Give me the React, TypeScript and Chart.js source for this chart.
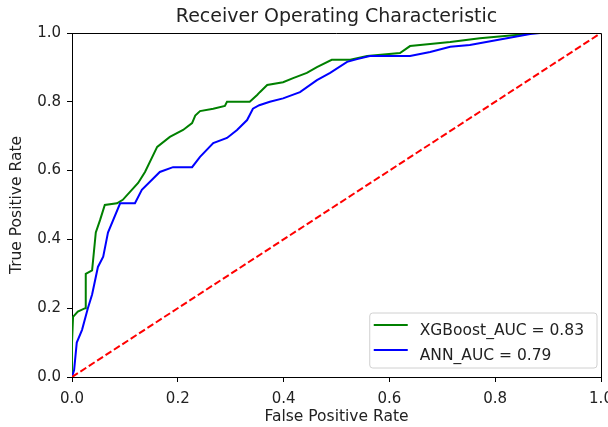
import { useEffect, useRef } from "react";
import { Chart, registerables } from "chart.js";

Chart.register(...registerables);

const FONT = "'DejaVu Sans', 'Liberation Sans', sans-serif";

const titleText = "Receiver Operating Characteristic";
const xTitle = "False Positive Rate";
const yTitle = "True Positive Rate";
const axisTicks = [0, 0.2, 0.4, 0.6, 0.8, 1.0];

const xgbLabel = "XGBoost_AUC = 0.83";
const xgbFpr = [0, 0, 0.002, 0.011, 0.025, 0.026, 0.038, 0.045, 0.053, 0.062, 0.085, 0.096, 0.125, 0.138, 0.161, 0.185, 0.21, 0.227, 0.233, 0.242, 0.267, 0.289, 0.293, 0.336, 0.35, 0.355, 0.369, 0.399, 0.418, 0.444, 0.463, 0.491, 0.526, 0.558, 0.62, 0.639, 0.677, 0.715, 0.771, 0.86, 0.866, 1.0];
const xgbTpr = [0, 0.1, 0.175, 0.19, 0.2, 0.3, 0.31, 0.42, 0.456, 0.5, 0.505, 0.515, 0.564, 0.596, 0.669, 0.698, 0.718, 0.738, 0.76, 0.773, 0.78, 0.788, 0.8, 0.8, 0.82, 0.828, 0.849, 0.857, 0.869, 0.884, 0.901, 0.922, 0.922, 0.933, 0.942, 0.962, 0.968, 0.974, 0.985, 0.997, 1.0, 1.0];

const annLabel = "ANN_AUC = 0.79";
const annFpr = [0, 0.004, 0.009, 0.019, 0.03, 0.038, 0.049, 0.059, 0.068, 0.091, 0.119, 0.132, 0.166, 0.191, 0.227, 0.242, 0.267, 0.293, 0.312, 0.331, 0.342, 0.354, 0.374, 0.399, 0.431, 0.463, 0.488, 0.52, 0.539, 0.563, 0.639, 0.677, 0.715, 0.752, 0.822, 0.866, 0.885, 1.0];
const annTpr = [0, 0.02, 0.1, 0.137, 0.2, 0.24, 0.32, 0.35, 0.42, 0.505, 0.505, 0.544, 0.596, 0.61, 0.61, 0.64, 0.68, 0.695, 0.718, 0.747, 0.78, 0.79, 0.8, 0.81, 0.828, 0.863, 0.884, 0.916, 0.924, 0.933, 0.933, 0.945, 0.96, 0.965, 0.985, 0.997, 1.0, 1.0];

const chanceFpr = [0, 1];
const chanceTpr = [0, 1];

const toPoints = (xs: number[], ys: number[]) => xs.map((x, i) => ({ x, y: ys[i] }));

const framePlugin = {
  id: "frameBox",
  afterDraw(chart: any) {
    const { ctx, chartArea } = chart;
    ctx.save();
    ctx.strokeStyle = "#000";
    ctx.lineWidth = 1;
    ctx.beginPath();
    ctx.moveTo(chartArea.left, chartArea.top + 0.5);
    ctx.lineTo(chartArea.right + 0.5, chartArea.top + 0.5);
    ctx.lineTo(chartArea.right + 0.5, chartArea.bottom);
    ctx.stroke();
    ctx.restore();
  },
};

const legendPlugin = {
  id: "rocLegend",
  afterDraw(chart: any) {
    const { ctx, chartArea } = chart;
    const items = chart.data.datasets.filter((d: any) => d.label);
    const fs = 15.5;
    ctx.save();
    ctx.font = `${fs}px ${FONT}`;
    let tw = 0;
    items.forEach((d: any) => {
      tw = Math.max(tw, ctx.measureText(d.label).width);
    });
    const right = chartArea.right - 4;
    const bottom = chartArea.bottom - 9;
    const rowGap = 25;
    const height = 30 + rowGap * (items.length - 1);
    const width = 50 + tw + 13;
    const left = right - width;
    const top = bottom - height;
    const r = 3;
    ctx.beginPath();
    ctx.moveTo(left + r, top);
    ctx.lineTo(right - r, top);
    ctx.arcTo(right, top, right, top + r, r);
    ctx.lineTo(right, bottom - r);
    ctx.arcTo(right, bottom, right - r, bottom, r);
    ctx.lineTo(left + r, bottom);
    ctx.arcTo(left, bottom, left, bottom - r, r);
    ctx.lineTo(left, top + r);
    ctx.arcTo(left, top, left + r, top, r);
    ctx.closePath();
    ctx.fillStyle = "rgba(255,255,255,0.85)";
    ctx.fill();
    ctx.strokeStyle = "#d0d0d0";
    ctx.lineWidth = 1;
    ctx.stroke();
    items.forEach((d: any, i: number) => {
      const ly = top + 12 + i * rowGap;
      ctx.beginPath();
      ctx.strokeStyle = d.borderColor;
      ctx.lineWidth = 2;
      ctx.moveTo(left + 4, ly);
      ctx.lineTo(left + 38, ly);
      ctx.stroke();
      ctx.fillStyle = "#222";
      ctx.textBaseline = "alphabetic";
      ctx.textAlign = "left";
      ctx.fillText(d.label, left + 50, ly + 10);
    });
    ctx.restore();
  },
};

export default function App() {
  const ref = useRef<HTMLCanvasElement | null>(null);

  useEffect(() => {
    if (!ref.current) return;
    const tickFont = { family: FONT, size: 15 };
    const chart = new Chart(ref.current, {
      type: "line",
      data: {
        datasets: [
          {
            label: xgbLabel,
            data: toPoints(xgbFpr, xgbTpr),
            borderColor: "#008000",
            borderWidth: 2,
            pointRadius: 0,
            fill: false,
            tension: 0,
            order: 2,
          },
          {
            label: annLabel,
            data: toPoints(annFpr, annTpr),
            borderColor: "#0000ff",
            borderWidth: 2,
            pointRadius: 0,
            fill: false,
            tension: 0,
            order: 1,
          },
          {
            label: "",
            data: toPoints(chanceFpr, chanceTpr),
            borderColor: "#ff0000",
            borderWidth: 2,
            borderDash: [7, 3],
            pointRadius: 0,
            fill: false,
            tension: 0,
            order: 0,
          },
        ],
      },
      options: {
        responsive: false,
        animation: false,
        devicePixelRatio: 1,
        layout: { padding: { left: 0, right: 7, top: 0, bottom: 0 } },
        plugins: {
          legend: { display: false },
          tooltip: { enabled: false },
          title: {
            display: true,
            text: titleText,
            fullSize: false,
            color: "#222",
            font: { family: FONT, size: 19, weight: "normal" },
            padding: { top: 6, bottom: 4.2 },
          },
        },
        scales: {
          x: {
            type: "linear",
            min: 0,
            max: 1,
            afterBuildTicks: (s: any) => {
              s.ticks = axisTicks.map((v) => ({ value: v }));
            },
            afterFit: (s: any) => {
              s.height = 50;
              s.paddingLeft = 0;
              s.paddingRight = 0;
            },
            ticks: {
              font: tickFont,
              color: "#222",
              padding: 8,
              maxRotation: 0,
              autoSkip: false,
              callback: (v: any) => Number(v).toFixed(1),
            },
            grid: {
              display: true,
              drawOnChartArea: false,
              drawTicks: true,
              tickLength: 5,
              color: "#000",
            },
            border: { display: true, color: "#000", width: 1 },
            title: {
              display: true,
              text: xTitle,
              color: "#222",
              font: { family: FONT, size: 15.5 },
              padding: { top: 0, bottom: 1 },
            },
          },
          y: {
            type: "linear",
            min: 0,
            max: 1,
            afterBuildTicks: (s: any) => {
              s.ticks = axisTicks.map((v) => ({ value: v }));
            },
            afterFit: (s: any) => {
              s.width = 72;
              s.paddingTop = 0;
              s.paddingBottom = 0;
            },
            ticks: {
              font: tickFont,
              color: "#222",
              padding: 6,
              autoSkip: false,
              callback: (v: any) => Number(v).toFixed(1),
            },
            grid: {
              display: true,
              drawOnChartArea: false,
              drawTicks: true,
              tickLength: 5,
              color: "#000",
            },
            border: { display: true, color: "#000", width: 1 },
            title: {
              display: true,
              text: yTitle,
              color: "#222",
              font: { family: FONT, size: 15.5 },
              padding: { top: 8, bottom: 0 },
            },
          },
        },
      },
      plugins: [framePlugin, legendPlugin],
    } as any);
    return () => chart.destroy();
  }, []);

  return (
    <canvas
      ref={ref}
      width={608}
      height={427}
      style={{ position: "absolute", left: 0, top: 0, width: 608, height: 427 }}
    />
  );
}
